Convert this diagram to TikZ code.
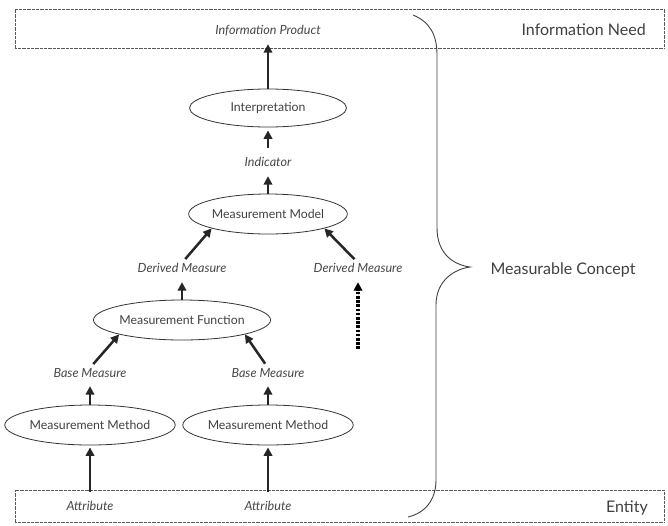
\documentclass[tikz,border=0pt]{standalone}
\usepackage{fontspec}
\setmainfont{Lato}
\usetikzlibrary{arrows.meta,shapes.geometric}
\begin{document}
\begin{tikzpicture}[x=1pt,y=-1pt,
  lab/.style={font=\fontsize{12.6}{14}\selectfont\itshape, text=black!72, inner sep=0pt, anchor=base, text height=9pt, text depth=0pt},
  ell/.style={ellipse, draw=black!80, line width=0.8pt, minimum width=155pt, minimum height=40pt, inner sep=0pt, font=\fontsize{12.3}{14}\selectfont, text=black!75},
  big/.style={font=\fontsize{16}{18}\selectfont, text=black!75, inner sep=0pt, anchor=base east},
  arr/.style={-{Triangle[length=8.5pt,width=8.5pt]}, line width=2.5pt, draw=black!85, fill=black!85},
  dotarr/.style={-{Triangle[length=8.5pt,width=8.5pt]}, line width=3.2pt, draw=black, fill=black, dash pattern=on 2.6pt off 1.6pt},
  dbox/.style={draw=black!65, line width=0.9pt, dash pattern=on 0.8pt off 0.5pt, inner sep=0pt},
  brace/.style={draw=black!75, line width=0.9pt}
]
\useasboundingbox (0,0) rectangle (668,525);
% boxes
\node[dbox, minimum width=649pt, minimum height=39pt] (topbox) at (339.5,28.5) {};
\node[dbox, minimum width=649pt, minimum height=32pt] (botbox) at (339.5,506) {};
% labels and ellipses
\node[lab] (ip) at (268,34) {Information Product};
\node[big] (need) at (646,35) {Information Need};
\node[ell, minimum width=157pt, minimum height=38pt] (interp) at (268,108) {Interpretation};
\node[lab] (ind) at (268,166) {Indicator};
\node[ell] (mm) at (268,214) {Measurement Model};
\node[lab] (dm1) at (182,272) {Derived Measure};
\node[lab] (dm2) at (358,272) {Derived Measure};
\node[ell] (mf) at (182,320) {Measurement Function};
\node[lab] (bm1) at (90,377) {Base Measure};
\node[lab] (bm2) at (268,377) {Base Measure};
\node[ell] (me1) at (90,425) {Measurement Method};
\node[ell] (me2) at (268,425) {Measurement Method};
\node[lab] (at1) at (90,510) {Attribute};
\node[lab] (at2) at (268,510) {Attribute};
\node[big] (ent) at (648,512) {Entity};
\node[font=\fontsize{16}{18}\selectfont, text=black!75, inner sep=0pt, anchor=base] (mc) at (563,274) {Measurable Concept};
\coordinate (dotstart) at (358,349);
% arrows
\draw[arr, shorten >=10pt] (interp.north) -- (ip.south);
\draw[arr, shorten <=9pt, shorten >=3pt] (ind.north) -- (interp.south);
\draw[arr, shorten >=10pt] (mm.north) -- (ind.south);
\draw[arr, shorten <=5pt] (dm1.north) -- (mm.south west);
\draw[arr, shorten <=5pt] (dm2.north) -- (mm.south east);
\draw[arr, shorten >=10pt] (mf.north) -- (dm1.south);
\draw[dotarr, shorten >=10pt] (dotstart) -- (dm2.south);
\draw[arr, shorten <=5pt] (bm1.north) -- (mf.south west);
\draw[arr, shorten <=5pt] (bm2.north) -- (mf.south east);
\draw[arr, shorten >=9pt] (me1.north) -- (bm1.south);
\draw[arr, shorten >=9pt] (me2.north) -- (bm2.south);
\draw[arr, shorten <=9pt, shorten >=2pt] (at1.north) -- (me1.south);
\draw[arr, shorten <=9pt, shorten >=2pt] (at2.north) -- (me2.south);
% brace
\draw[brace] (413,15) .. controls (430,22) and (437,35) .. (437,55)
  -- (437,228) .. controls (437,255) and (455,265) .. (470,267)
  .. controls (455,269) and (436,280) .. (436,305)
  -- (436,480) .. controls (436,500) and (425,513) .. (408,517);
\end{tikzpicture}
\end{document}
